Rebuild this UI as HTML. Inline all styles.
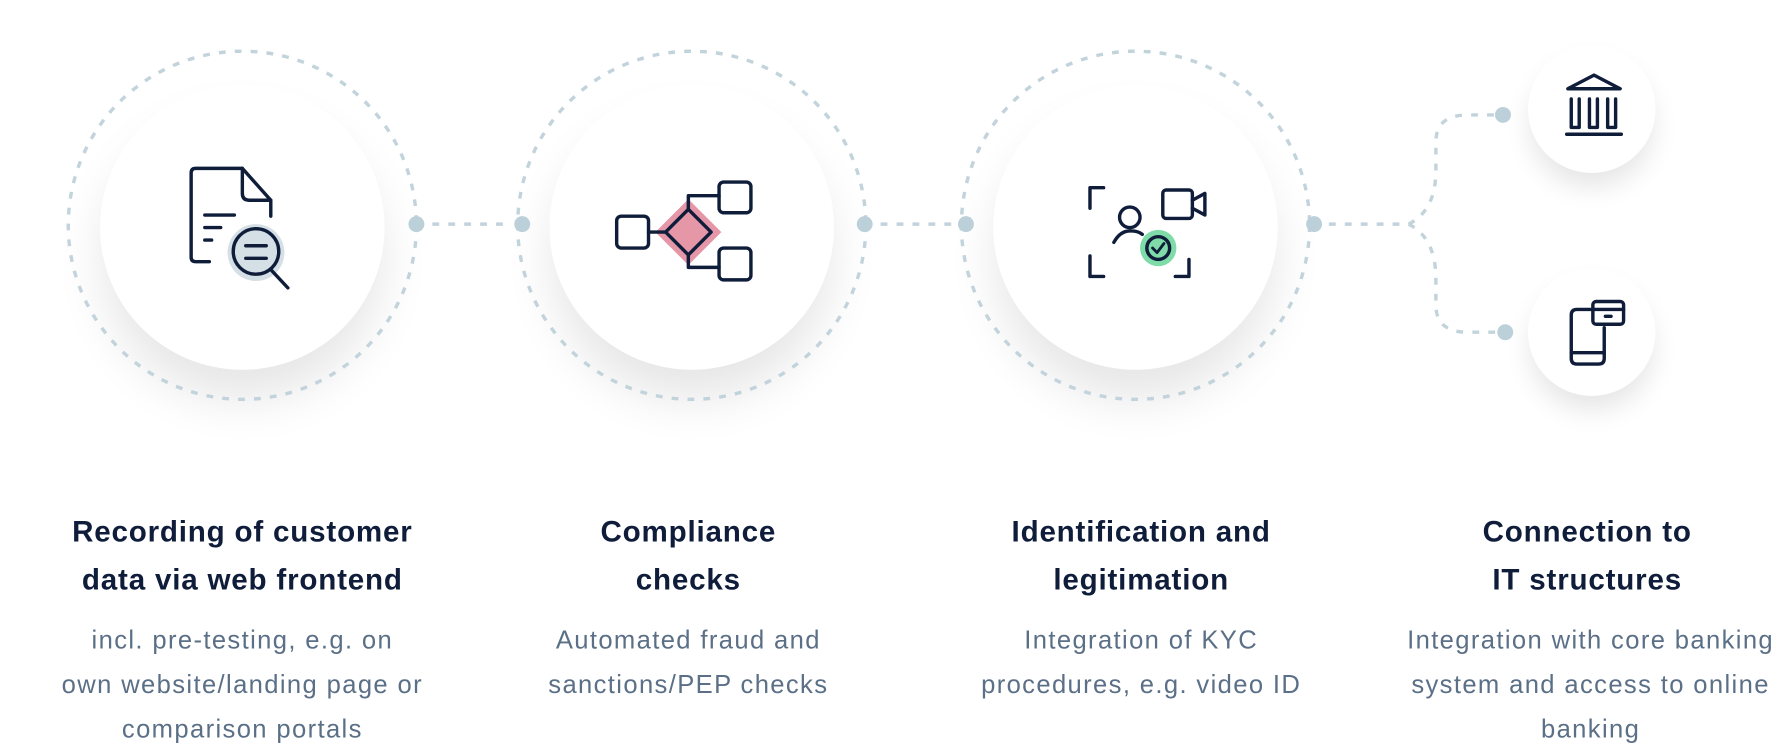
<!DOCTYPE html>
<html><head><meta charset="utf-8"><style>
html,body{margin:0;padding:0;background:#fff;width:1784px;height:750px;overflow:hidden}
#w{position:absolute;left:0;top:0;width:1568px;height:659px;transform:scale(1.13776);transform-origin:0 0}
.t{position:absolute;width:400px;text-align:center;font-family:"Liberation Sans",sans-serif;white-space:nowrap}
.h{font-weight:bold;font-size:26px;letter-spacing:0.7px;line-height:42px;color:#0f1d3a;top:446px}
.s{font-size:22.5px;letter-spacing:1.2px;line-height:39px;color:#5b7087;top:543px}
</style></head><body><div id="w">
<svg width="1568" height="659" viewBox="0 0 1568 659" style="position:absolute;left:0;top:0">
<defs>
<filter id="sh" x="-60%" y="-60%" width="220%" height="220%"><feGaussianBlur stdDeviation="22"/></filter>
<filter id="sh2" x="-60%" y="-60%" width="220%" height="220%"><feGaussianBlur stdDeviation="12"/></filter>
</defs>
<g fill="#000" opacity="0.10" filter="url(#sh)">
<circle cx="213" cy="228" r="122"/><circle cx="608" cy="228" r="122"/><circle cx="998" cy="228" r="122"/>
</g>
<g fill="#000" opacity="0.10" filter="url(#sh2)">
<circle cx="1399" cy="110" r="54"/><circle cx="1399" cy="306" r="54"/>
</g>
<g fill="none" stroke="#c2d3dc" stroke-width="3" stroke-dasharray="6 8">
<circle cx="213" cy="198" r="153"/><circle cx="608" cy="198" r="153"/><circle cx="998" cy="198" r="153"/>
<line x1="380" y1="197" x2="446" y2="197"/><line x1="774" y1="197" x2="836" y2="197"/>
<path d="M1168 197 H1238 Q1262 185 1262 150 V125 Q1262 101 1290 101 H1316"/>
<path d="M1238 197 Q1262 209 1262 245 V268 Q1262 292 1290 292 H1316"/>
</g>
<g fill="#bcd0da">
<circle cx="366" cy="197" r="7"/><circle cx="459" cy="197" r="7"/><circle cx="760" cy="197" r="7"/><circle cx="849" cy="197" r="7"/><circle cx="1155" cy="197" r="7"/><circle cx="1321" cy="101" r="7"/><circle cx="1323" cy="292" r="7"/>
</g>
<g fill="#fff">
<circle cx="213" cy="200" r="125"/><circle cx="608" cy="200" r="125"/><circle cx="998" cy="200" r="125"/>
<circle cx="1399" cy="96" r="56"/><circle cx="1399" cy="292" r="56"/>
</g>
<g fill="none" stroke="#0f1d3a" stroke-width="3" stroke-linecap="round" stroke-linejoin="round">
<path d="M184 230 H172 Q168 230 168 226 V152 Q168 148 172 148 H213 L238 176 V190"/>
<path d="M213 148 V170 Q213 176 219 176 H238"/>
<line x1="180" y1="189" x2="206" y2="189"/><line x1="180" y1="200" x2="194" y2="200"/><line x1="180" y1="211" x2="186" y2="211"/>
<circle cx="225" cy="222" r="25" fill="#d5e0e6" stroke="none"/>
<circle cx="225" cy="221" r="20"/>
<line x1="216" y1="216" x2="234" y2="216"/><line x1="216" y1="227" x2="234" y2="227"/>
<line x1="239" y1="238" x2="253" y2="253"/>
<path d="M605 175 L634 204 L605 233 L576 204 Z" fill="#e597a8" stroke="none"/>
<path d="M605 184 L625 204 L605 224 L585 204 Z"/>
<rect x="542" y="190" width="28" height="28" rx="4"/>
<line x1="570" y1="204" x2="585" y2="204"/>
<rect x="632" y="160" width="28" height="27" rx="4"/>
<rect x="632" y="218" width="28" height="28" rx="4"/>
<path d="M605 184 V172 H632"/><path d="M605 224 V235 H632"/>
<path d="M970 165 H958 V183"/><path d="M958 225 V243 H970"/><path d="M1045 228 V243 H1033"/>
<circle cx="993" cy="191" r="9"/>
<path d="M979 213 Q985 202 995 203 Q1000 203 1004 206"/>
<rect x="1022" y="167" width="26" height="25" rx="3"/>
<path d="M1048 176 L1059 170 V189 L1048 183"/>
<circle cx="1018" cy="218" r="16" fill="#7fdca8" stroke="none"/>
<circle cx="1018" cy="218" r="10"/>
<path d="M1013 218 L1017 222 L1023 214" stroke-width="2.5"/>
<path d="M1378 78 L1401 66 L1424 78 Z"/>
<path d="M1381 87 V112 H1388 V87"/><path d="M1397 87 V112 H1404 V87"/><path d="M1413 87 V112 H1420 V87"/>
<line x1="1377" y1="118" x2="1425" y2="118"/>
<path d="M1398 272 H1386 Q1381 272 1381 277 V315 Q1381 320 1386 320 H1405 Q1410 320 1410 315 V288"/>
<line x1="1381" y1="310" x2="1410" y2="310"/>
<rect x="1400" y="265" width="27" height="20" rx="3"/>
<line x1="1400" y1="272" x2="1427" y2="272"/>
<line x1="1411" y1="278" x2="1416" y2="278"/>
</g>
</svg>
<div class="t h" style="left:13px">Recording of customer<br>data via web frontend</div>
<div class="t s" style="left:13px">incl. pre-testing, e.g. on<br>own website/landing page or<br>comparison portals</div>
<div class="t h" style="left:405px">Compliance<br>checks</div>
<div class="t s" style="left:405px">Automated fraud and<br>sanctions/PEP checks</div>
<div class="t h" style="left:803px">Identification and<br>legitimation</div>
<div class="t s" style="left:803px">Integration of KYC<br>procedures, e.g. video ID</div>
<div class="t h" style="left:1195px">Connection to<br>IT structures</div>
<div class="t s" style="left:1198px">Integration with core banking<br>system and access to online<br>banking</div>
</div></body></html>
